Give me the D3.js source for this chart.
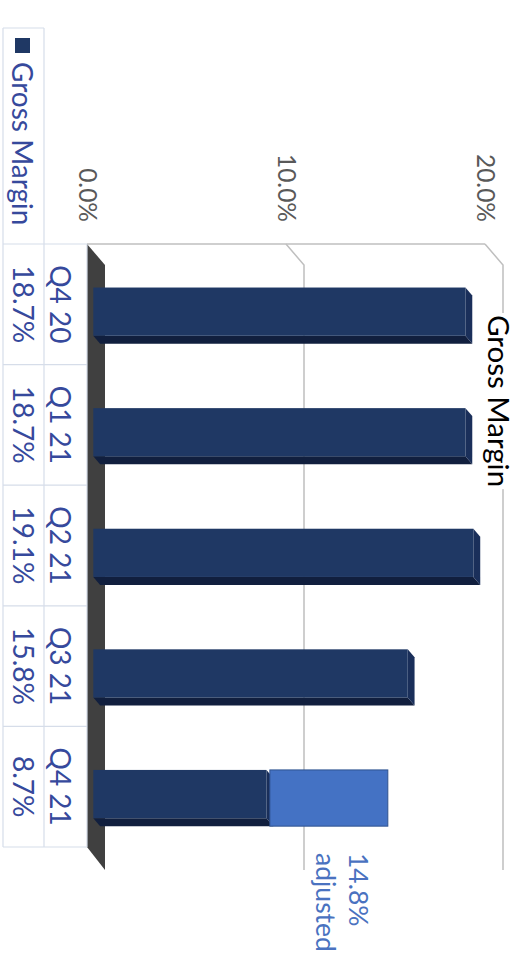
<!DOCTYPE html>
<html>
<head>
<meta charset="utf-8">
<script src="https://cdn.jsdelivr.net/npm/d3@7"></script>
<style>
  html, body { margin: 0; padding: 0; background: #ffffff; }
  svg { display: block; }
</style>
</head>
<body>
<svg id="chart" width="520" height="976"></svg>
<script>
// ---- data ----
const categories = ["Q4 20", "Q1 21", "Q2 21", "Q3 21", "Q4 21"];
const grossMargin = [18.7, 18.7, 19.1, 15.8, 8.7];
const adjustedMargin = [null, null, null, null, 14.8];
const adjustedLabel = ["14.8%", "adjusted"];
const tickValues = [0, 10, 20];
const tickLabels = ["0.0%", "10.0%", "20.0%"];
const seriesName = "Gross Margin";
const chartTitle = "Gross Margin";

// ---- layout ----
const svg = d3.select("#chart");
const FONT = "Lato, 'Open Sans', sans-serif";
const depthX = 18, depthY = 21;      // 3D back-plane offset
const barFront = 0.35, barBack = 0.73; // bar depth position (fraction)

const x = d3.scaleLinear().domain([0, 20]).range([87, 485]);
const yTable = d3.scaleBand().domain(categories).range([244, 847]);
const yBar = d3.scaleBand().domain(categories).range([244, 847]).paddingInner(0.6).paddingOuter(0.3);

const gridColor = "#bfbfbf";
const tableLine = "#d6dde9";
const tableText = "#36499c";

// ---- gridlines (side wall + back wall) ----
const grid = svg.append("g");
grid.append("line")
  .attr("x1", x(0)).attr("x2", x(20)).attr("y1", 244).attr("y2", 244)
  .attr("stroke", gridColor).attr("stroke-width", 1.5);
grid.selectAll("path.gl").data(tickValues.filter(t => t > 0)).join("path")
  .attr("class", "gl")
  .attr("d", t => `M${x(t)},244 L${x(t) + depthX},${244 + depthY} L${x(t) + depthX},${847 + depthY + 2}`)
  .attr("fill", "none").attr("stroke", gridColor).attr("stroke-width", 1.5);

// ---- floor ----
svg.append("path")
  .attr("d", `M${x(0)},244 L${x(0) + depthX},${244 + depthY} L${x(0) + depthX},${847 + depthY + 2} L${x(0)},847 Z`)
  .attr("fill", "#404040");

// ---- bars ----
const ddx = (barBack - barFront) * depthX, ddy = (barBack - barFront) * depthY;
const bw = yBar.bandwidth();
const bars = svg.append("g");
const barData = categories.map((c, i) => ({ c, v: grossMargin[i], adj: adjustedMargin[i] }));
barData.forEach(d => {
  const X0 = x(0) + barFront * depthX, X1 = x(d.v) + barFront * depthX;
  const Y0 = yBar(d.c) + barFront * depthY, Y1 = Y0 + bw;
  const g = bars.append("g");
  // bottom (side) face
  g.append("path")
    .attr("d", `M${X0},${Y1} L${X1},${Y1} L${X1 + ddx},${Y1 + ddy} L${X0 + ddx},${Y1 + ddy} Z`)
    .attr("fill", "#111f3e");
  // end (top) face
  g.append("path")
    .attr("d", `M${X1},${Y0} L${X1 + ddx},${Y0 + ddy} L${X1 + ddx},${Y1 + ddy} L${X1},${Y1} Z`)
    .attr("fill", "#1a2f5a");
  // front face
  g.append("rect")
    .attr("x", X0).attr("y", Y0).attr("width", X1 - X0).attr("height", bw)
    .attr("fill", "#1f3864");
  if (d.adj != null) {
    const A0 = X1 + ddx * 0.5, A1 = x(d.adj) + barFront * depthX;
    g.append("rect")
      .attr("x", A0).attr("y", Y0).attr("width", A1 - A0).attr("height", bw + ddy)
      .attr("fill", "#4472c4").attr("stroke", "#2f528f").attr("stroke-width", 1);
    // annotation label
    const lab = svg.append("g");
    adjustedLabel.forEach((t, k) => {
      lab.append("text")
        .attr("transform", `translate(${x(d.adj) - 33 - k * 33},853) rotate(90)`)
        .attr("text-anchor", "start")
        .attr("font-family", FONT).attr("font-size", 26.5)
        .attr("fill", "#4a72c0")
        .text(t);
    });
  }
});

// ---- value axis labels ----
const axis = d3.axisTop(x).tickValues(tickValues).tickFormat((d, i) => tickLabels[i]).tickSize(0);
const ax = svg.append("g").attr("transform", "translate(0,222)").call(axis);
ax.select(".domain").remove();
ax.selectAll("text")
  .attr("x", 0).attr("y", 0).attr("dy", "0.36em")
  .attr("text-anchor", "end")
  .attr("transform", "rotate(90)")
  .attr("font-family", FONT).attr("font-size", 24.5)
  .attr("fill", "#595959");

// ---- data table ----
const table = svg.append("g");
// borders
table.append("line").attr("x1", 3).attr("x2", 3).attr("y1", 28).attr("y2", 847);
table.append("line").attr("x1", 44).attr("x2", 44).attr("y1", 28).attr("y2", 847);
table.append("line").attr("x1", 87).attr("x2", 87).attr("y1", 244).attr("y2", 847);
table.append("line").attr("x1", 3).attr("x2", 44).attr("y1", 28).attr("y2", 28);
const bounds = categories.map(c => yTable(c)).concat([yTable(categories[categories.length - 1]) + yTable.bandwidth()]);
table.selectAll("line.hb").data(bounds).join("line").attr("class", "hb")
  .attr("x1", 3).attr("x2", 87).attr("y1", d => d).attr("y2", d => d);
table.selectAll("line").attr("stroke", tableLine).attr("stroke-width", 1.2);

// category labels
table.selectAll("text.cat").data(categories).join("text").attr("class", "cat")
  .attr("transform", c => `translate(50,${yTable(c) + yTable.bandwidth() / 2}) rotate(90)`)
  .attr("text-anchor", "middle")
  .attr("font-family", FONT).attr("font-size", 28).attr("fill", tableText)
  .text(c => c);
// values
table.selectAll("text.val").data(barData).join("text").attr("class", "val")
  .attr("transform", d => `translate(13,${yTable(d.c) + yTable.bandwidth() / 2}) rotate(90)`)
  .attr("text-anchor", "middle")
  .attr("font-family", FONT).attr("font-size", 28).attr("fill", tableText)
  .text(d => d.v.toFixed(1) + "%");
// legend
table.append("rect").attr("x", 15).attr("y", 38).attr("width", 15).attr("height", 15).attr("fill", "#1f3864");
table.append("text")
  .attr("transform", "translate(12,62) rotate(90)")
  .attr("text-anchor", "start")
  .attr("font-family", FONT).attr("font-size", 28).attr("fill", tableText)
  .text(seriesName);

// ---- title ----
const tg = svg.append("g").attr("transform", "translate(488,315) rotate(90)");
const bgRect = tg.append("rect").attr("fill", "#ffffff");
const tt = tg.append("text")
  .attr("text-anchor", "start")
  .attr("font-family", FONT).attr("font-size", 29.5).attr("fill", "#000000")
  .text(chartTitle);
const bb = tt.node().getBBox();
bgRect.attr("x", bb.x - 2).attr("y", bb.y).attr("width", bb.width + 4).attr("height", bb.height);
</script>
</body>
</html>
